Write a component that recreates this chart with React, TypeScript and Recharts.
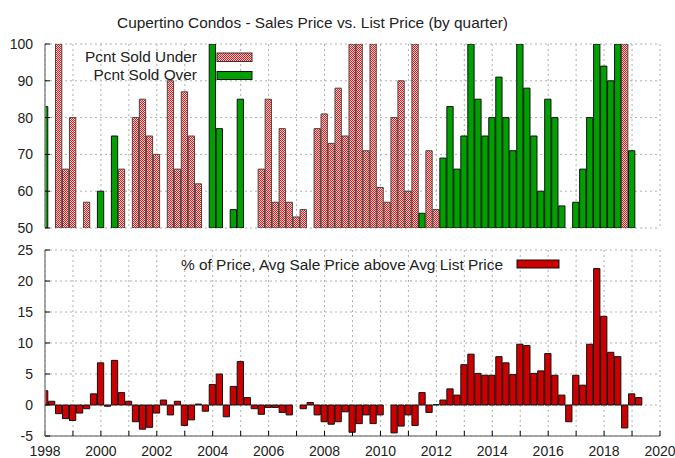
import React from 'react';
import { BarChart, Bar, XAxis, YAxis, CartesianGrid, Cell, Legend } from 'recharts';

const FONT = '"Liberation Sans", Arial, Helvetica, sans-serif';

// quarter index 0 = 1998 Q1 (plotted at 1998.0), step 0.25 year
const START_YEAR = 1998;
const yearTicks = [1998, 1999, 2000, 2001, 2002, 2003, 2004, 2005, 2006, 2007, 2008, 2009, 2010, 2011, 2012, 2013, 2014, 2015, 2016, 2017, 2018, 2019, 2020];
const topYTicks = [50, 60, 70, 80, 90, 100];
const bottomYTicks = [-5, 0, 5, 10, 15, 20, 25];

// Top panel: percent sold under / over list (one bar per quarter)
const soldPct: (number | null)[] = [
  83, null, 100, 66, 80, null, 57, null,
  60, null, 75, 66, null, 80, 85, 75,
  70, null, 90, 66, 87, 75, 62, null,
  100, 77, null, 55, 85, null, null, 66,
  85, 57, 77, 57, 53, 55, null, 77,
  81, 73, 88, 75, 100, 100, 71, 100,
  61, 57, 80, 90, 60, 100, 54, 71,
  55, 69, 83, 66, 75, 100, 85, 75,
  80, 91, 80, 71, 100, 88, 75, 60,
  85, 80, 56, null, 57, 66, 80, 100,
  94, 90, 100, 100, 71,
];
const soldSide: ('U' | 'O' | null)[] = [
  'O', null, 'U', 'U', 'U', null, 'U', null,
  'O', null, 'O', 'U', null, 'U', 'U', 'U',
  'U', null, 'U', 'U', 'U', 'U', 'U', null,
  'O', 'O', null, 'O', 'O', null, null, 'U',
  'U', 'U', 'U', 'U', 'U', 'U', null, 'U',
  'U', 'U', 'U', 'U', 'U', 'U', 'U', 'U',
  'U', 'U', 'U', 'U', 'U', 'U', 'O', 'U',
  'U', 'O', 'O', 'O', 'O', 'O', 'O', 'O',
  'O', 'O', 'O', 'O', 'O', 'O', 'O', 'O',
  'O', 'O', 'O', null, 'O', 'O', 'O', 'O',
  'O', 'O', 'O', 'U', 'O',
];

// Bottom panel: % avg sale price above avg list price
const pctAbove: (number | null)[] = [
  2.3, 0.6, -1.4, -2.2, -2.5, -1.3, -0.6, 1.8,
  6.8, -0.2, 7.2, 2.0, 0.6, -2.7, -3.9, -3.6,
  -1.3, 0.8, -1.6, 0.6, -3.3, -2.4, 0.15, -1.0,
  3.3, 5.0, -1.9, 3.0, 7.0, 1.2, -0.6, -1.5,
  -0.4, -0.4, -1.2, -1.6, null, -0.6, 0.4, -1.6,
  -2.7, -3.1, -2.7, -1.1, -4.4, -3.0, -1.6, -3.0,
  -1.6, null, -4.5, -3.4, -1.6, -3.3, 2.0, -1.2,
  0.05, 0.8, 2.6, 1.6, 6.5, 8.2, 5.1, 4.8,
  4.8, 7.8, 6.8, 4.9, 9.8, 9.6, 5.1, 5.5,
  8.3, 4.8, 1.6, -2.7, 4.8, 3.2, 9.8, 22.0,
  14.3, 8.5, 7.8, -3.7, 1.8, 1.2,
];

const GREEN = '#00a000';
const RED = '#cc0000';
const FRAME = '#8a8a8a';

const topData = soldPct.map((v, i) => ({ x: START_YEAR + i * 0.25, value: v, side: soldSide[i] }));
const bottomData = pctAbove.map((v, i) => ({ x: START_YEAR + i * 0.25, value: v }));

const tickStyle = { fontSize: 14, fill: '#222', fontFamily: FONT };
const LABEL_SIZE = 15.4;
const noLabel = () => '';
const evenYears = (v: number) => (v % 2 === 0 ? String(v) : '');

const TopLegend = () => (
  <svg width={675} height={240} style={{ position: 'absolute', left: 0, top: 0, overflow: 'visible' }}>
    <text x={197} y={56} textAnchor="end" dominantBaseline="central" fontSize={LABEL_SIZE} fill="#222" fontFamily={FONT}>Pcnt Sold Under</text>
    <rect x={217} y={53} width={35} height={8.5} fill="url(#hatchU)" stroke="#333" strokeWidth={1} />
    <text x={197} y={74} textAnchor="end" dominantBaseline="central" fontSize={LABEL_SIZE} fill="#222" fontFamily={FONT}>Pcnt Sold Over</text>
    <rect x={217} y={71.5} width={35} height={8} fill={GREEN} stroke="#111" strokeWidth={1} />
  </svg>
);

const BottomLegend = () => (
  <svg width={675} height={218} style={{ position: 'absolute', left: 0, top: 0, overflow: 'visible' }}>
    <text x={503} y={24} textAnchor="end" dominantBaseline="central" fontSize={LABEL_SIZE} fill="#222" fontFamily={FONT}>% of Price, Avg Sale Price above Avg List Price</text>
    <rect x={517} y={20} width={42} height={8} fill={RED} stroke="#111" strokeWidth={1} />
  </svg>
);

export default function App() {
  return (
    <div style={{ position: 'absolute', left: 0, top: 0, width: 675, height: 458, background: '#fff', fontFamily: FONT }}>
      <div style={{ position: 'absolute', left: 0, top: 14, width: 625, textAlign: 'center', fontSize: LABEL_SIZE, lineHeight: 'normal', color: '#222', fontFamily: FONT }}>
        Cupertino Condos - Sales Price vs. List Price (by quarter)
      </div>
      <div style={{ position: 'absolute', left: 0, top: 0 }}>
        <BarChart width={675} height={240} data={topData} margin={{ top: 44, right: 15, bottom: 12, left: 0 }}>
          <defs>
            <pattern id="hatchU" width="2" height="2" patternUnits="userSpaceOnUse">
              <rect x="0" y="0" width="2" height="2" fill="#fbd2d2" />
              <rect x="0" y="0" width="1" height="1" fill="#e01818" />
              <rect x="1" y="1" width="1" height="1" fill="#e01818" />
            </pattern>
          </defs>
          <CartesianGrid stroke="#b0b0b0" strokeDasharray="2 3" />
          <XAxis type="number" dataKey="x" domain={[1998, 2020]} ticks={yearTicks} allowDataOverflow
            height={0} tickFormatter={noLabel} tickSize={-5} tick={tickStyle}
            axisLine={{ stroke: FRAME, strokeWidth: 1.5 }} tickLine={{ stroke: '#000' }} />
          <XAxis xAxisId="top" orientation="top" type="number" domain={[1998, 2020]} ticks={yearTicks}
            height={0} tickFormatter={noLabel} tickSize={-5} tick={tickStyle}
            axisLine={{ stroke: FRAME, strokeWidth: 1.5 }} tickLine={{ stroke: '#000' }} />
          <YAxis type="number" domain={[50, 100]} ticks={topYTicks} allowDataOverflow width={45}
            tickSize={-5} tickMargin={17} tick={tickStyle}
            axisLine={{ stroke: FRAME, strokeWidth: 1.5 }} tickLine={{ stroke: '#000' }} />
          <YAxis yAxisId="right" orientation="right" type="number" domain={[50, 100]} ticks={topYTicks} width={0}
            tickSize={-5} tickFormatter={noLabel} tick={tickStyle}
            axisLine={{ stroke: FRAME, strokeWidth: 1.5 }} tickLine={{ stroke: '#000' }} />
          <Bar dataKey="value" barSize={7} isAnimationActive={false} strokeWidth={1}>
            {topData.map((d, i) => (
              <Cell key={i} fill={d.side === 'U' ? 'url(#hatchU)' : GREEN} stroke={d.side === 'U' ? '#444' : '#111'} />
            ))}
          </Bar>
          <Legend layout="horizontal" verticalAlign="middle" align="center" content={() => <TopLegend />}
            wrapperStyle={{ left: 0, top: 0, width: 675, height: 240, pointerEvents: 'none' }} />
        </BarChart>
      </div>
      <div style={{ position: 'absolute', left: 0, top: 240 }}>
        <BarChart width={675} height={218} data={bottomData} margin={{ top: 10, right: 15, bottom: 0, left: 0 }}>
          <CartesianGrid stroke="#b0b0b0" strokeDasharray="2 3" />
          <XAxis type="number" dataKey="x" domain={[1998, 2020]} ticks={yearTicks} allowDataOverflow
            height={22} tickFormatter={evenYears} tickSize={-5} tickMargin={15} tick={tickStyle} interval={0}
            axisLine={{ stroke: FRAME, strokeWidth: 1.5 }} tickLine={{ stroke: '#000' }} />
          <XAxis xAxisId="top" orientation="top" type="number" domain={[1998, 2020]} ticks={yearTicks}
            height={0} tickFormatter={noLabel} tickSize={-5} tick={tickStyle}
            axisLine={{ stroke: FRAME, strokeWidth: 1.5 }} tickLine={{ stroke: '#000' }} />
          <YAxis type="number" domain={[-5, 25]} ticks={bottomYTicks} allowDataOverflow width={45}
            tickSize={-5} tickMargin={17} tick={tickStyle}
            axisLine={{ stroke: FRAME, strokeWidth: 1.5 }} tickLine={{ stroke: '#000' }} />
          <YAxis yAxisId="right" orientation="right" type="number" domain={[-5, 25]} ticks={bottomYTicks} width={0}
            tickSize={-5} tickFormatter={noLabel} tick={tickStyle}
            axisLine={{ stroke: FRAME, strokeWidth: 1.5 }} tickLine={{ stroke: '#000' }} />
          <Bar dataKey="value" barSize={7} fill={RED} stroke="#111" strokeWidth={1} isAnimationActive={false} />
          <Legend layout="horizontal" verticalAlign="middle" align="center" content={() => <BottomLegend />}
            wrapperStyle={{ left: 0, top: 0, width: 675, height: 218, pointerEvents: 'none' }} />
        </BarChart>
      </div>
    </div>
  );
}
